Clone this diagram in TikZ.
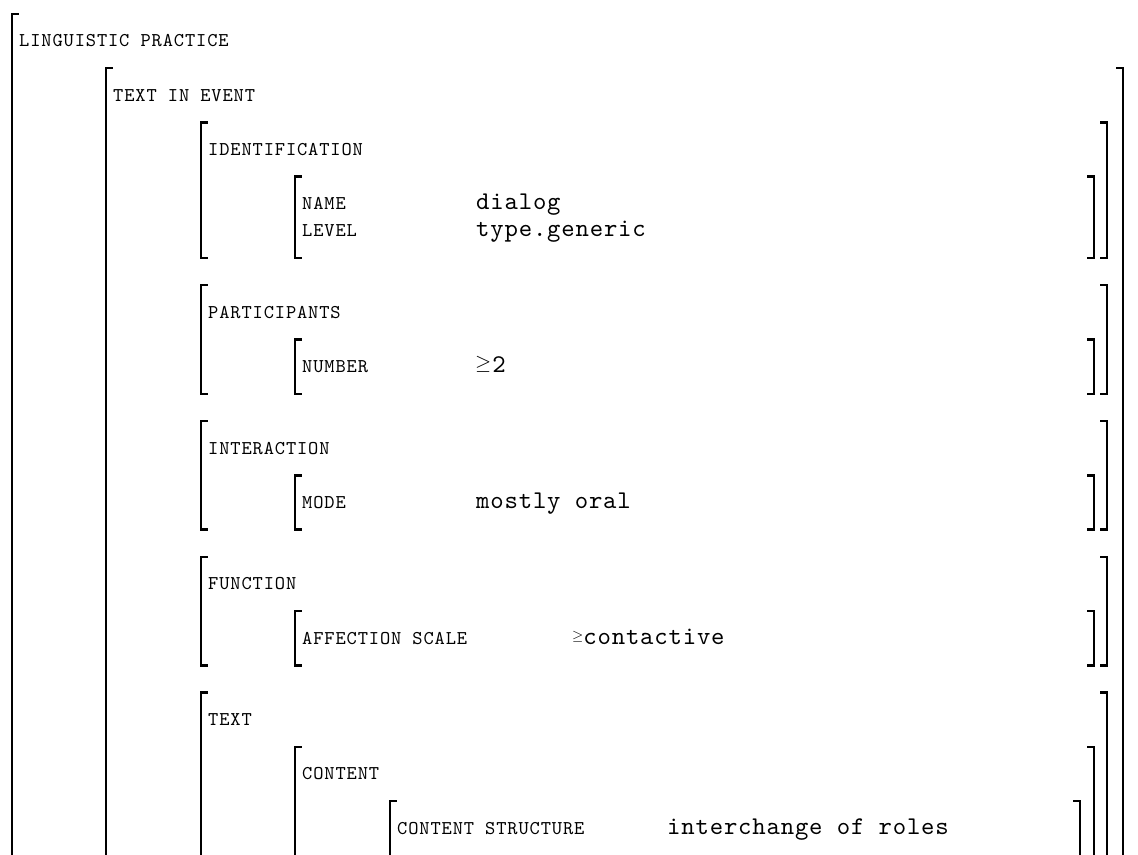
\documentclass[tikz,border=0pt]{standalone}
\usepackage{fontspec}
\newfontfamily\attrfont{lmmono10-regular.otf}[LetterSpace=4.5]
\newfontfamily\valfont{lmmono10-regular.otf}[LetterSpace=3.2]
\usetikzlibrary{positioning}

\tikzset{
  attr/.style={anchor=base west, inner sep=0pt, font=\attrfont\fontsize{19.5}{21}\selectfont},
  val/.style={anchor=base west, inner sep=0pt, font=\valfont\fontsize{25.5}{27}\selectfont},
  brline/.style={line width=1.4pt},
  brtick/.style={line width=2.4pt}
}
\newcommand{\leftbrk}[3]{%
  \draw[brline] (#1,#2) -- (#1,#3);
  \draw[brtick] (#1-0.7,#2) -- (#1+7,#2);
  \draw[brtick] (#1-0.7,#3) -- (#1+7,#3);}
\newcommand{\rightbrk}[3]{%
  \draw[brline] (#1,#2) -- (#1,#3);
  \draw[brtick] (#1+0.7,#2) -- (#1-7,#2);
  \draw[brtick] (#1+0.7,#3) -- (#1-7,#3);}
\newcommand{\atleast}[2]{\raisebox{#2}{\fontsize{#1}{#1}\selectfont$\geq$}}

\begin{document}
\begin{tikzpicture}[x=1pt,y=-27.15pt]
  \useasboundingbox (0,-0.508) rectangle (1138,30.983);

  \leftbrk{12}{0}{33}
  \leftbrk{106}{2}{33}
  \rightbrk{1123}{2}{33}

  \leftbrk{201}{4}{9}
  \rightbrk{1107}{4}{9}
  \leftbrk{295}{6}{9}
  \rightbrk{1094}{6}{9}

  \leftbrk{201}{10}{14}
  \rightbrk{1107}{10}{14}
  \leftbrk{295}{12}{14}
  \rightbrk{1094}{12}{14}

  \leftbrk{201}{15}{19}
  \rightbrk{1107}{15}{19}
  \leftbrk{295}{17}{19}
  \rightbrk{1094}{17}{19}

  \leftbrk{201}{20}{24}
  \rightbrk{1107}{20}{24}
  \leftbrk{295}{22}{24}
  \rightbrk{1094}{22}{24}

  \leftbrk{201}{25}{33}
  \rightbrk{1107}{25}{33}
  \leftbrk{295}{27}{33}
  \rightbrk{1094}{27}{33}
  \leftbrk{390}{29}{33}
  \rightbrk{1080}{29}{33}

  \node[attr] (lp) at (19,1.22) {LINGUISTIC PRACTICE};
  \node[attr] (tie) at (113,3.22) {TEXT IN EVENT};
  \node[attr] (ident) at (208,5.22) {IDENTIFICATION};
  \node[attr] (name) at (302,7.22) {NAME};
  \node[attr] (level) at (302,8.22) {LEVEL};
  \node[val] (namev) at (476,7.22) {dialog};
  \node[val] (levelv) at (476,8.22) {type.generic};
  \node[attr] (part) at (208,11.22) {PARTICIPANTS};
  \node[attr] (number) at (302,13.22) {NUMBER};
  \node[val] (numberv) at (475,13.22) {\atleast{21}{2.9pt}\kern1pt 2};
  \node[attr] (inter) at (208,16.22) {INTERACTION};
  \node[attr] (mode) at (302,18.22) {MODE};
  \node[val] (modev) at (476,18.22) {mostly oral};
  \node[attr] (func) at (208,21.22) {FUNCTION};
  \node[attr] (affect) at (302,23.22) {AFFECTION SCALE};
  \node[val] (affectv) at (572,23.22) {\atleast{15}{4pt}contactive};
  \node[attr] (text) at (208,26.22) {TEXT};
  \node[attr] (content) at (302,28.22) {CONTENT};
  \node[attr] (cstruct) at (397,30.22) {CONTENT STRUCTURE};
  \node[val] (cstructv) at (667,30.22) {interchange of roles};
\end{tikzpicture}
\end{document}
